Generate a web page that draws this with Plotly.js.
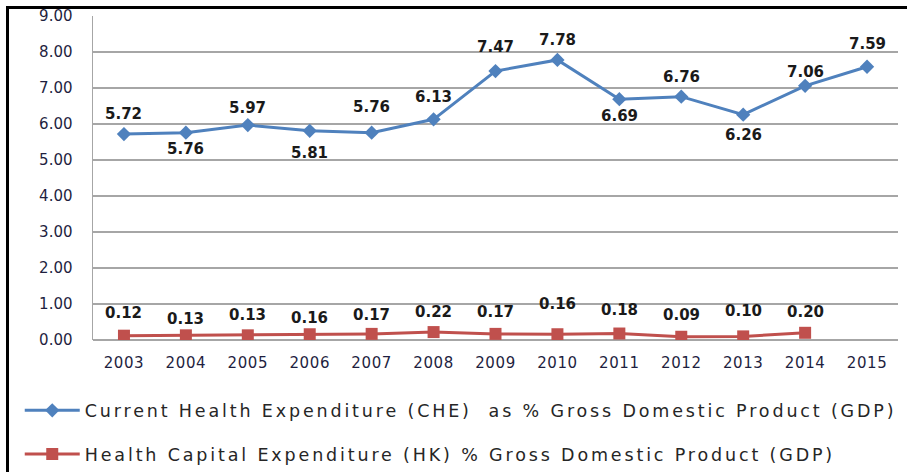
<!DOCTYPE html>
<html>
<head>
<meta charset="utf-8">
<script src="https://cdn.plot.ly/plotly-3.0.1.min.js"></script>
<style>
  body { margin: 0; background: #fff; }
  #grafico { width: 907px; height: 472px; }
  #marco { position: absolute; left: 6px; top: 6px; width: 901px; height: 466px;
           border-left: 3px solid #000; border-top: 3px solid #000; pointer-events: none; }
  .legendtext { letter-spacing: 2.85px; }
  .xtick text { letter-spacing: 0.6px; }
</style>
</head>
<body>
<div id="grafico"></div>
<div id="marco"></div>
<script>
const anios = ["2003", "2004", "2005", "2006", "2007", "2008", "2009", "2010", "2011", "2012", "2013", "2014", "2015"];
const che = [5.72, 5.76, 5.97, 5.81, 5.76, 6.13, 7.47, 7.78, 6.69, 6.76, 6.26, 7.06, 7.59];
const hk = [0.12, 0.13, 0.13, 0.16, 0.17, 0.22, 0.17, 0.16, 0.18, 0.09, 0.10, 0.20];
const nombreChe = "Current Health Expenditure (CHE)  as % Gross Domestic Product (GDP)";
const nombreHk = "Health Capital Expenditure (HK) % Gross Domestic Product (GDP)";

// desplazamiento vertical de cada etiqueta (px)
const despChe = [20, -16, 17, -22, 26, 22, 24, 20, -17, 20, -20, 14, 23];
const despHk = [23, 16, 20, 16, 19, 20, 22, 30, 24, 22, 25, 21];

const fuenteEtiqueta = { family: "DejaVu Sans", size: 15, color: "#1a1a1a", weight: "bold" };

// en eje de categorías se usa el índice de la categoría
function etiquetas(valores, desp) {
    return valores.map((v, i) => ({
        x: i,
        y: v,
        xref: "x",
        yref: "y",
        text: v.toFixed(2),
        showarrow: false,
        yshift: desp[i],
        font: fuenteEtiqueta
    }));
}

const trazaChe = {
    x: anios,
    y: che,
    type: "scatter",
    mode: "lines+markers",
    name: nombreChe,
    legendgroup: "a",
    line: { color: "#4F81BD", width: 3 },
    marker: { symbol: "diamond", size: 11, color: "#4F81BD" }
};

const trazaHk = {
    x: anios.slice(0, hk.length),
    y: hk,
    type: "scatter",
    mode: "lines+markers",
    name: nombreHk,
    legendgroup: "b",
    line: { color: "#C0504D", width: 3 },
    marker: { symbol: "square", size: 12, color: "#C0504D" }
};

Plotly.newPlot("grafico", [trazaChe, trazaHk], {
    width: 907,
    height: 472,
    margin: { l: 93, r: 9, t: 16, b: 132, autoexpand: false },
    paper_bgcolor: "#fff",
    plot_bgcolor: "#fff",
    showlegend: true,
    legend: {
        orientation: "v",
        x: -0.091,
        xanchor: "left",
        y: -0.162,
        yanchor: "top",
        itemwidth: 55,
        tracegroupgap: 18,
        font: { family: "DejaVu Sans", size: 17.5, color: "#262626" },
        bgcolor: "rgba(0,0,0,0)"
    },
    xaxis: {
        type: "category",
        range: [-0.5, 12.5],
        showgrid: false,
        showline: false,
        zeroline: false,
        ticks: "",
        ticklabelstandoff: 12,
        tickfont: { family: "DejaVu Sans", size: 15, color: "#1f1f3f" }
    },
    yaxis: {
        range: [0, 9],
        dtick: 1,
        tickformat: ".2f",
        showgrid: true,
        gridcolor: "#a6a6a6",
        gridwidth: 1.5,
        showline: true,
        linecolor: "#a6a6a6",
        linewidth: 1.5,
        zeroline: true,
        zerolinecolor: "#a6a6a6",
        zerolinewidth: 1.5,
        ticks: "",
        ticklabelstandoff: 16,
        tickfont: { family: "DejaVu Sans", size: 15, color: "#1f1f3f" }
    },
    annotations: etiquetas(che, despChe).concat(etiquetas(hk, despHk))
}, { displayModeBar: false, staticPlot: true });
</script>
</body>
</html>
